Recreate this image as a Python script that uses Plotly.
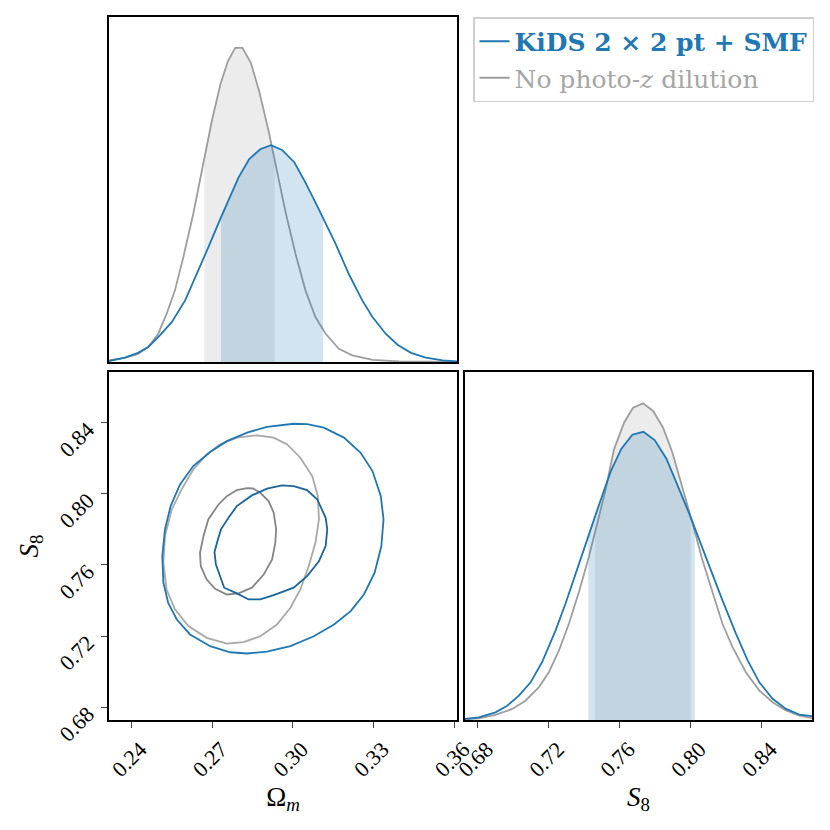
import plotly.graph_objects as go

# ---- marginal of Omega_m (top-left panel), heights normalised to grey peak ----
om_grey_x = [0.2316, 0.2376, 0.2425, 0.2463, 0.2500, 0.2531, 0.2562, 0.2593, 0.2630, 0.2668,
             0.2671, 0.2699, 0.2731, 0.2759, 0.2786, 0.2813, 0.2844, 0.2875, 0.2910, 0.2933,
             0.2941, 0.2972, 0.3010, 0.3047, 0.3084, 0.3122, 0.3171, 0.3221, 0.3296, 0.3395, 0.3610]
om_grey_y = [0.005, 0.013, 0.026, 0.048, 0.090, 0.153, 0.228, 0.333, 0.471, 0.630,
             0.646, 0.767, 0.884, 0.958, 1.000, 1.000, 0.952, 0.862, 0.735, 0.647,
             0.608, 0.481, 0.344, 0.228, 0.143, 0.090, 0.042, 0.021, 0.007, 0.002, 0.000]
om_grey_band = (0.2671, 0.2933)

om_blue_x = [0.2316, 0.2376, 0.2425, 0.2463, 0.2506, 0.2550, 0.2600, 0.2649, 0.2686, 0.2733,
             0.2767, 0.2798, 0.2838, 0.2879, 0.2919, 0.2960, 0.3006, 0.3047, 0.3084, 0.3112,
             0.3159, 0.3208, 0.3258, 0.3296, 0.3345, 0.3389, 0.3439, 0.3494, 0.3557, 0.3610]
om_blue_y = [0.003, 0.014, 0.029, 0.048, 0.085, 0.127, 0.196, 0.291, 0.365, 0.460,
             0.529, 0.587, 0.646, 0.677, 0.690, 0.675, 0.635, 0.571, 0.508, 0.460,
             0.376, 0.280, 0.196, 0.143, 0.090, 0.055, 0.029, 0.014, 0.005, 0.002]
om_blue_band = (0.2733, 0.3112)

# ---- marginal of S8 (bottom-right panel) ----
s8_grey_x = [0.6721, 0.6806, 0.6900, 0.6994, 0.7069, 0.7145, 0.7201, 0.7258, 0.7314, 0.7371,
             0.7427, 0.7461, 0.7484, 0.7521, 0.7568, 0.7625, 0.7676, 0.7732, 0.7789, 0.7845,
             0.7898, 0.7954, 0.8002, 0.8011, 0.8067, 0.8124, 0.8180, 0.8237, 0.8312, 0.8388,
             0.8463, 0.8538, 0.8614, 0.8685]
s8_grey_y = [0.002, 0.005, 0.016, 0.035, 0.061, 0.104, 0.151, 0.220, 0.304, 0.405,
             0.516, 0.592, 0.643, 0.727, 0.854, 0.939, 0.986, 1.000, 0.976, 0.923,
             0.844, 0.738, 0.641, 0.622, 0.505, 0.400, 0.304, 0.230, 0.151, 0.093,
             0.056, 0.030, 0.014, 0.006]
s8_grey_band = (0.7461, 0.8002)

s8_blue_x = [0.6721, 0.6806, 0.6900, 0.6966, 0.7032, 0.7098, 0.7163, 0.7239, 0.7295, 0.7361,
             0.7423, 0.7484, 0.7550, 0.7610, 0.7672, 0.7734, 0.7798, 0.7864, 0.7926, 0.7992,
             0.8024, 0.8049, 0.8105, 0.8180, 0.8256, 0.8322, 0.8388, 0.8463, 0.8538, 0.8614, 0.8685]
s8_blue_y = [0.003, 0.008, 0.024, 0.045, 0.077, 0.119, 0.183, 0.283, 0.368, 0.474,
             0.579, 0.680, 0.785, 0.857, 0.901, 0.910, 0.884, 0.825, 0.743, 0.653,
             0.606, 0.569, 0.484, 0.378, 0.273, 0.188, 0.119, 0.067, 0.035, 0.017, 0.012]
s8_blue_band = (0.7423, 0.8024)

# ---- 2D contours (Omega_m, S8) ----
blue_outer_om = [0.3003, 0.2904, 0.2830, 0.2755, 0.2693, 0.2630, 0.2581, 0.2546, 0.2525, 0.2515,
                 0.2519, 0.2537, 0.2569, 0.2618, 0.2693, 0.2767, 0.2830, 0.2904, 0.2991, 0.3078,
                 0.3153, 0.3215, 0.3264, 0.3304, 0.3329, 0.3337, 0.3327, 0.3296, 0.3252, 0.3190,
                 0.3115, 0.3053]
blue_outer_s8 = [0.8394, 0.8377, 0.8344, 0.8296, 0.8235, 0.8156, 0.8053, 0.7931, 0.7800, 0.7650,
                 0.7500, 0.7387, 0.7293, 0.7209, 0.7143, 0.7109, 0.7102, 0.7112, 0.7143, 0.7199,
                 0.7265, 0.7340, 0.7434, 0.7556, 0.7706, 0.7856, 0.7987, 0.8128, 0.8231, 0.8316,
                 0.8372, 0.8392]

grey_outer_om = [0.2867, 0.2792, 0.2730, 0.2680, 0.2630, 0.2587, 0.2550, 0.2525, 0.2519, 0.2531,
                 0.2562, 0.2612, 0.2680, 0.2755, 0.2817, 0.2879, 0.2941, 0.2991, 0.3028, 0.3059,
                 0.3084, 0.3097, 0.3093, 0.3072, 0.3028, 0.2979, 0.2929]
grey_outer_s8 = [0.8329, 0.8316, 0.8278, 0.8222, 0.8137, 0.8025, 0.7912, 0.7762, 0.7612, 0.7462,
                 0.7350, 0.7256, 0.7190, 0.7157, 0.7166, 0.7199, 0.7265, 0.7359, 0.7462, 0.7593,
                 0.7725, 0.7856, 0.7987, 0.8100, 0.8203, 0.8278, 0.8316]

blue_inner_om = [0.2960, 0.2904, 0.2848, 0.2792, 0.2761, 0.2733, 0.2720, 0.2709, 0.2714, 0.2730,
                 0.2745, 0.2792, 0.2836, 0.2879, 0.2929, 0.3003, 0.3053, 0.3097, 0.3122, 0.3128,
                 0.3122, 0.3091, 0.3053, 0.3003]
blue_inner_s8 = [0.8047, 0.8029, 0.7991, 0.7931, 0.7865, 0.7800, 0.7734, 0.7672, 0.7603, 0.7537,
                 0.7472, 0.7440, 0.7406, 0.7406, 0.7430, 0.7472, 0.7537, 0.7621, 0.7706, 0.7800,
                 0.7865, 0.7968, 0.8021, 0.8043]

grey_inner_om = [0.2830, 0.2792, 0.2755, 0.2724, 0.2686, 0.2668, 0.2655, 0.2658, 0.2680, 0.2711,
                 0.2755, 0.2798, 0.2848, 0.2892, 0.2923, 0.2935, 0.2938, 0.2929, 0.2910, 0.2879,
                 0.2852]
grey_inner_s8 = [0.8032, 0.8021, 0.7987, 0.7940, 0.7856, 0.7762, 0.7668, 0.7593, 0.7518, 0.7466,
                 0.7434, 0.7440, 0.7472, 0.7546, 0.7631, 0.7725, 0.7800, 0.7894, 0.7959, 0.8006,
                 0.8030]

om_ticks = [0.24, 0.27, 0.30, 0.33, 0.36]
s8_ticks = [0.68, 0.72, 0.76, 0.80, 0.84]
om_range = [0.2317, 0.3610]
s8_range = [0.6728, 0.8685]

BLUE = "#1f77b4"
BLUE_IN = "#1a659b"
GREY = "#9e9e9e"
GREY_OUT = "#a8a8a8"
GREY_IN = "#858585"
FONT = "Liberation Serif"
LEG_FONT = "DejaVu Serif"


def band(xs, ys, lo, hi):
    pts = [(x, y) for x, y in zip(xs, ys) if lo <= x <= hi]
    return [p[0] for p in pts], [p[1] for p in pts]


def closed(a):
    return list(a) + [a[0]]


def marginal(fig, xs, ys, lims, fill, line, ax, ay):
    bx, by = band(xs, ys, *lims)
    fig.add_trace(go.Scatter(x=bx, y=by, mode="lines", fill="tozeroy", fillcolor=fill,
                             line=dict(color=fill, width=1), xaxis=ax, yaxis=ay,
                             showlegend=False, hoverinfo="skip"))
    fig.add_trace(go.Scatter(x=xs, y=ys, mode="lines", line=dict(color=line, width=1.8),
                             xaxis=ax, yaxis=ay, showlegend=False))


fig = go.Figure()

GREY_FILL = "rgba(153,153,153,0.19)"
BLUE_FILL = "rgba(31,119,180,0.2)"

# top-left: Omega_m marginal
marginal(fig, om_grey_x, om_grey_y, om_grey_band, GREY_FILL, GREY, "x", "y")
marginal(fig, om_blue_x, om_blue_y, om_blue_band, BLUE_FILL, BLUE, "x", "y")

# bottom-left: contours
for cx, cy, col in [(grey_outer_om, grey_outer_s8, GREY_OUT), (grey_inner_om, grey_inner_s8, GREY_IN),
                    (blue_outer_om, blue_outer_s8, BLUE), (blue_inner_om, blue_inner_s8, BLUE_IN)]:
    fig.add_trace(go.Scatter(x=closed(cx), y=closed(cy), mode="lines", line=dict(color=col, width=1.8),
                             xaxis="x2", yaxis="y2", showlegend=False))

# bottom-right: S8 marginal
marginal(fig, s8_grey_x, s8_grey_y, s8_grey_band, GREY_FILL, GREY, "x3", "y3")
marginal(fig, s8_blue_x, s8_blue_y, s8_blue_band, BLUE_FILL, BLUE, "x3", "y3")

# legend entries
fig.add_trace(go.Scatter(x=[None], y=[None], mode="lines", line=dict(color=BLUE, width=1.8),
                         name='<span style="color:#1f77b4"><b>KiDS 2 × 2 pt + SMF</b></span>',
                         xaxis="x", yaxis="y", legendgroup="a"))
fig.add_trace(go.Scatter(x=[None], y=[None], mode="lines", line=dict(color=GREY, width=1.8),
                         name='<span style="color:#a6a6a6">No photo-<i>z</i> dilution</span>',
                         xaxis="x", yaxis="y", legendgroup="b"))

frame = dict(showline=True, linecolor="black", linewidth=1.5, mirror=True, showgrid=False,
             zeroline=False, automargin=False, tickfont=dict(family=FONT, size=22, color="black"))
xtick = dict(tickvals=s8_ticks, tickformat=".2f", ticks="outside", ticklen=6, tickwidth=1.4,
             tickangle=-45, ticklabelshift=9, ticklabelstandoff=0)
title_font = dict(family=FONT, size=27, color="black")

# the page puts the plot 8px in from the top-left corner of the window
OFF = 8
SIZE = 830 - OFF
L, R, T, B = 109 - OFF, 830 - 812, 17 - OFF, 830 - 720
PW = SIZE - L - R
PH = SIZE - T - B

fig.update_layout(
    width=SIZE, height=SIZE,
    margin=dict(l=L, r=R, t=T, b=B, autoexpand=False),
    plot_bgcolor="white", paper_bgcolor="white",
    font=dict(family=FONT, color="black"),
    xaxis=dict(domain=[0, (457 - 109) / PW], range=om_range, showticklabels=False, ticks="",
               anchor="y", **frame),
    yaxis=dict(domain=[(720 - 362) / PH, 1], range=[0, 1.098], showticklabels=False, ticks="",
               anchor="x", **frame),
    xaxis2=dict(domain=[0, (457 - 109) / PW], range=om_range, anchor="y2",
                title=dict(text="Ω<sub><i>m</i></sub>", font=title_font, standoff=6),
                **{**xtick, "tickvals": om_ticks}, **frame),
    yaxis2=dict(domain=[0, (720 - 372) / PH], range=s8_range, tickvals=s8_ticks, tickformat=".2f",
                ticks="outside", ticklen=6, tickwidth=1.4, tickangle=-45, anchor="x2",
                ticklabelshift=4, ticklabelstandoff=9,
                title=dict(text="<i>S</i><sub>8</sub>", font=title_font, standoff=8),
                **frame),
    xaxis3=dict(domain=[(465 - 109) / PW, 1], range=s8_range, anchor="y3",
                title=dict(text="<i>S</i><sub>8</sub>", font=title_font, standoff=6),
                **xtick, **frame),
    yaxis3=dict(domain=[0, (720 - 372) / PH], range=[0, 1.099], showticklabels=False, ticks="",
                anchor="x3", **frame),
    legend=dict(x=(473 - 109) / PW, y=1, xanchor="left", yanchor="top",
                bgcolor="white", bordercolor="#cfcfcf", borderwidth=1.5,
                font=dict(family=LEG_FONT, size=25), itemwidth=30,
                traceorder="grouped", tracegroupgap=1),
    showlegend=True,
)

fig.write_html("out.html")
